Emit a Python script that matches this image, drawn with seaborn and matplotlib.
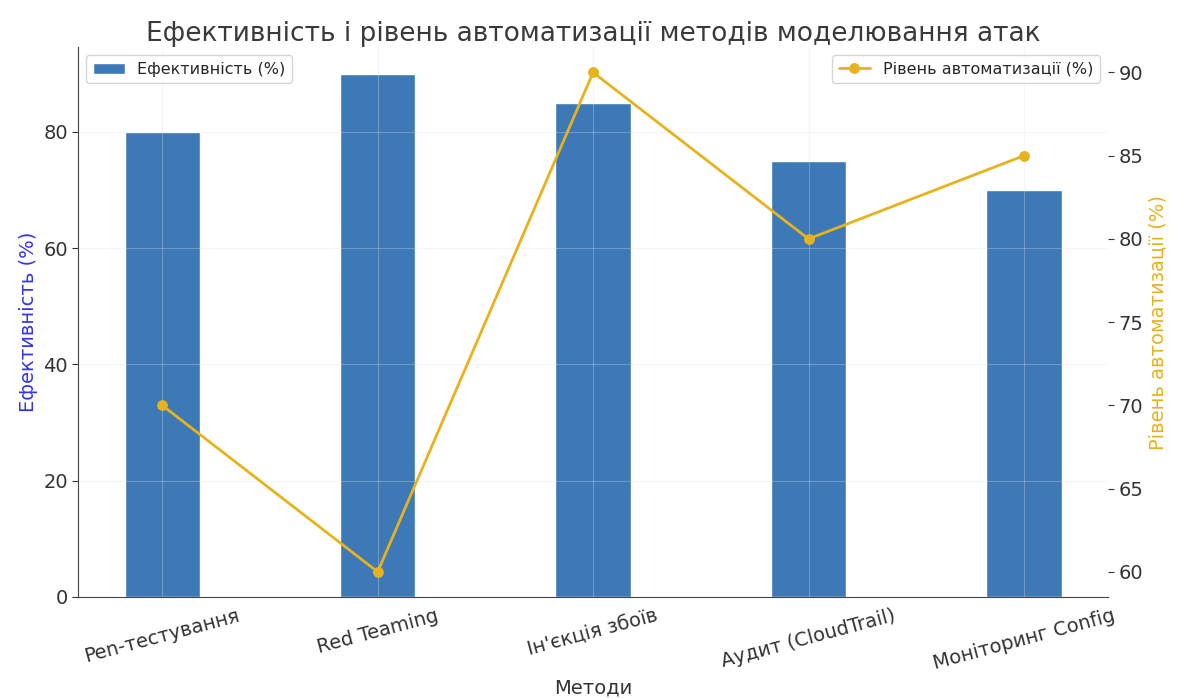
import matplotlib
matplotlib.use("Agg")
import matplotlib.pyplot as plt
import seaborn as sns
import pandas as pd

methods = ["Pen-тестування", "Red Teaming", "Ін'єкція збоїв", "Аудит (CloudTrail)", "Моніторинг Config"]
effectiveness = [80, 90, 85, 75, 70]
automation = [70, 60, 90, 80, 85]

df = pd.DataFrame({"method": methods, "eff": effectiveness, "auto": automation})

sns.set_style("whitegrid", {"grid.color": "#e3e3e3", "axes.edgecolor": "#444444"})
plt.rcParams["font.family"] = ["DejaVu Sans"]

bar_color = "#3d79b6"
line_color = "#e8b21c"

fig, ax = plt.subplots(figsize=(11.85, 6.98), dpi=100)
fig.subplots_adjust(left=0.066, right=0.935, top=0.932, bottom=0.145)

ax.set_axisbelow(False)
sns.barplot(data=df, x="method", y="eff", color=bar_color, width=0.35,
            saturation=1, ax=ax, label="Ефективність (%)", zorder=1)
ax.grid(True, color="#e3e3e3", alpha=0.3, zorder=2)
ax.set_xlabel("Методи", fontsize=14, color="#333333")
ax.set_ylabel("Ефективність (%)", fontsize=14, color="#3333ee")
ax.set_title("Ефективність і рівень автоматизації методів моделювання атак",
             fontsize=19, color="#3a3a3a", pad=5)
ax.tick_params(axis="x", labelrotation=15, labelsize=14, colors="#333333")
ax.tick_params(axis="y", labelsize=14, colors="#333333", left=True, length=4)
for lbl in ax.get_xticklabels():
    lbl.set_ha("center")
ax.set_xlim(-0.39, 4.39)
ax.set_ylim(0, 94.5)
ax.set_yticks([0, 20, 40, 60, 80])
for s in ["top", "right"]:
    ax.spines[s].set_visible(False)
ax.legend(loc="upper left", fontsize=11.5, frameon=True)

ax2 = ax.twinx()
sns.lineplot(data=df, x="method", y="auto", color=line_color, marker="o",
             markersize=7, markeredgecolor=line_color, linewidth=2,
             ax=ax2, label="Рівень автоматизації (%)", sort=False)
ax2.set_ylabel("Рівень автоматизації (%)", fontsize=14, color=line_color)
ax2.set_ylim(58.5, 91.5)
ax2.set_yticks([60, 65, 70, 75, 80, 85, 90])
ax2.tick_params(axis="y", labelsize=14, colors="#333333", right=True, length=4)
ax2.grid(False)
for s in ["top", "right", "left", "bottom"]:
    ax2.spines[s].set_visible(False)
ax2.legend(loc="upper right", fontsize=11.5, frameon=True)
ax2.set_xlim(-0.39, 4.39)

fig.savefig("out.png", dpi=100)
